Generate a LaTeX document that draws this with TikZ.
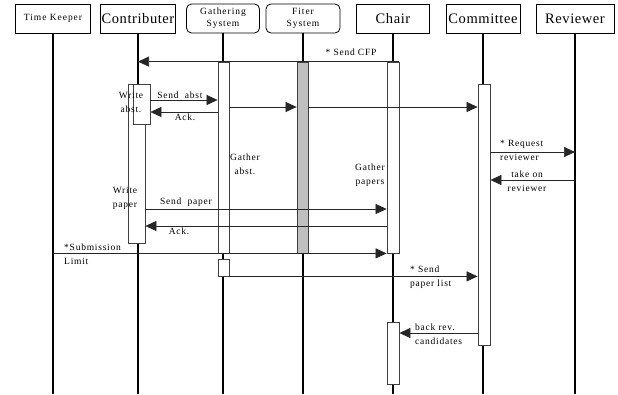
\documentclass[tikz,border=0pt]{standalone}
\usepackage{fontspec}
\setmainfont{Liberation Serif}
\usetikzlibrary{arrows.meta}

\begin{document}
\begin{tikzpicture}[
            x=1pt,
            y=-1pt,
            head/.style={draw, line width=0.8pt, minimum height=29pt, inner sep=1pt, align=center,
                font=\fontsize{9.5}{12}\selectfont\addfontfeature{LetterSpace=10}},
            bighead/.style={head, font=\fontsize{14.5}{16}\selectfont\addfontfeature{LetterSpace=4}},
            syshead/.style={head, rounded corners=5pt},
            life/.style={line width=1.2pt},
            bar/.style={draw=black!75, line width=0.8pt, fill=white, inner sep=0pt, minimum width=12pt},
            msg/.style={draw=black!85, line width=0.7pt, -{Triangle[length=11pt, width=10pt]}},
            lbl/.style={inner sep=0pt, align=center,
                font=\fontsize{9.5}{14}\selectfont\addfontfeature{LetterSpace=8}}
        ]
        \useasboundingbox (0,0) rectangle (618,394);

        \node[head, minimum width=75pt] (tk) at (53,18.5) {Time Keeper};
        \node[bighead, minimum width=71pt] (con) at (138,18.5) {Contributer};
        \node[syshead, minimum width=73pt] (gath) at (223,18.5) {Gathering\\System};
        \node[syshead, minimum width=74pt] (fil) at (303,18.5) {Fiter\\System};
        \node[bighead, minimum width=73pt] (chair) at (393,18.5) {Chair};
        \node[bighead, minimum width=74pt] (com) at (483,18.5) {Committee};
        \node[bighead, minimum width=78pt] (rev) at (575,18.5) {Reviewer};

        \coordinate (bottom) at (0,394);
        \foreach \h in {tk,con,gath,fil,chair,com,rev}
            \draw[life] (\h.south) -- (\h.south |- bottom);

        \node[bar, minimum width=17pt, minimum height=159pt] (wpap) at (136.5,163.5) {};
        \node[bar, minimum width=17pt, minimum height=40pt] (wabs) at (141.5,104) {};
        \node[bar, minimum width=11pt, minimum height=191pt] (gb1) at (223.5,157.5) {};
        \node[bar, minimum width=11pt, minimum height=17pt] (gb2) at (223.5,267.5) {};
        \node[bar, fill=black!25, minimum width=11pt, minimum height=191pt] (fb) at (302.5,157.5) {};
        \node[bar, minimum height=191pt] (cb1) at (393,157.5) {};
        \node[bar, minimum height=62pt] (cb2) at (393,353) {};
        \node[bar, minimum height=261pt] (cmb) at (484,214.5) {};

        \draw[msg] (cb1.north east) -- (con.south |- cb1.north);
        \draw[msg] (wabs.east |- 0,100) -- (gb1.west |- 0,100);
        \draw[msg] (gb1.west |- 0,112) -- (wabs.east |- 0,112);
        \draw[msg] (gb1.east |- 0,107) -- (fb.west |- 0,107);
        \draw[msg] (fb.east |- 0,107) -- (cmb.west |- 0,107);
        \draw[msg] (cmb.east |- 0,152) -- (rev.south |- 0,152);
        \draw[msg] (rev.south |- 0,180) -- (cmb.east |- 0,180);
        \draw[msg] (wpap.east |- 0,209) -- (cb1.west |- 0,209);
        \draw[msg] (cb1.west |- 0,226) -- (wpap.east |- 0,226);
        \draw[msg] (tk.south |- cb1.south) -- (cb1.south west);
        \draw[msg] (gb2.south east) -- (cmb.west |- gb2.south);
        \draw[msg] (cmb.west |- 0,333) -- (cb2.east |- 0,333);

        \node[lbl] at (351,52) {* Send CFP};
        \node[lbl] at (131,102) {Write\\abst.};
        \node[lbl] at (180,95) {Send\ \ abst};
        \node[lbl] at (185,117) {Ack.};
        \node[lbl] at (245,164) {Gather\\abst.};
        \node[lbl] at (370,175) {Gather\\papers};
        \node[lbl] at (125,198) {Write\\paper};
        \node[lbl] at (186,202) {Send\ \ paper};
        \node[lbl] at (179,231) {Ack.};
        \node[lbl, align=left, anchor=west] at (64,254.5) {*Submission\\Limit};
        \node[lbl, align=left, anchor=west] at (500,150) {* Request\\reviewer};
        \node[lbl] at (527,181) {take on\\reviewer};
        \node[lbl, align=left, anchor=west] at (410,277) {* Send\\paper list};
        \node[lbl, align=left, anchor=west] at (415,334) {back rev.\\candidates};
    \end{tikzpicture}
\end{document}
